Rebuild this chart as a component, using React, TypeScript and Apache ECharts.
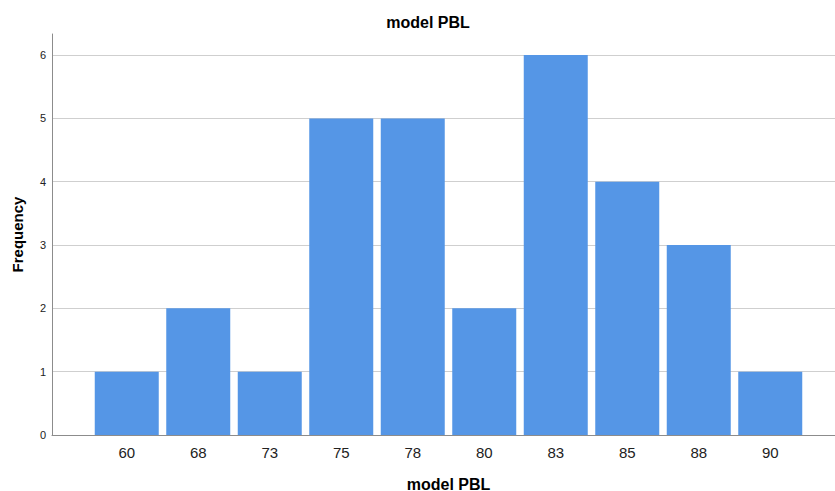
import React, { useEffect, useRef } from "react";
import * as echarts from "echarts";

const categories = ["60", "68", "73", "75", "78", "80", "83", "85", "88", "90"];
const frequencies = [1, 2, 1, 5, 5, 2, 6, 4, 3, 1];
const yTicks = [0, 1, 2, 3, 4, 5, 6];

export default function App() {
  const ref = useRef<HTMLDivElement>(null);
  useEffect(() => {
    document.body.style.margin = "0";
    const chart = echarts.init(ref.current!, null, { renderer: "svg" });
    const font = "Arial, 'Liberation Sans', sans-serif";
    const yMax = 6.333;
    chart.setOption({
      animation: false,
      backgroundColor: "#ffffff",
      textStyle: { fontFamily: font },
      title: {
        text: "model PBL",
        left: 423,
        top: 9,
        textAlign: "center",
        textStyle: { fontSize: 16, fontWeight: "bold", color: "#000", fontFamily: font },
      },
      grid: [
        { left: 52, right: 0, top: 34, bottom: 56, outerBoundsMode: "none", containLabel: false },
        { left: 91, right: 29, top: 34, bottom: 56, outerBoundsMode: "none", containLabel: false },
      ],
      xAxis: [
        {
          gridIndex: 0,
          type: "value",
          min: 0,
          max: 1,
          axisLine: { show: true, lineStyle: { color: "#8c8c8c", width: 1 } },
          axisTick: { show: false },
          axisLabel: { show: false },
          splitLine: { show: false },
        },
        {
          gridIndex: 1,
          type: "category",
          data: categories,
          axisLine: { show: false },
          axisTick: { show: false },
          axisLabel: { fontSize: 15, color: "#222", margin: 10, fontFamily: font },
          name: "model PBL",
          nameLocation: "middle",
          nameGap: 42,
          nameTextStyle: {
            fontSize: 16,
            lineHeight: 14,
            fontWeight: "bold",
            color: "#000",
            fontFamily: font,
          },
        },
      ],
      yAxis: [
        {
          gridIndex: 0,
          type: "value",
          min: 0,
          max: yMax,
          interval: 1,
          axisLine: { show: true, lineStyle: { color: "#8c8c8c", width: 1 } },
          axisTick: { show: false },
          axisLabel: {
            fontSize: 11,
            color: "#222",
            margin: 6,
            fontFamily: font,
            formatter: (v: number) => (yTicks.includes(v) ? String(v) : ""),
          },
          splitLine: { show: true, showMaxLine: false, lineStyle: { color: "#cfcfcf", width: 1 } },
          name: "Frequency",
          nameLocation: "middle",
          nameRotate: 90,
          nameGap: 27,
          nameTextStyle: { fontSize: 15, fontWeight: "bold", color: "#000", fontFamily: font },
        },
        {
          gridIndex: 1,
          type: "value",
          min: 0,
          max: yMax,
          show: false,
        },
      ],
      series: [
        {
          type: "bar",
          xAxisIndex: 1,
          yAxisIndex: 1,
          data: frequencies,
          barWidth: 64,
          itemStyle: { color: "#5596e6" },
        },
      ],
    });
    return () => chart.dispose();
  }, []);
  return <div ref={ref} style={{ width: 835, height: 491 }} />;
}
